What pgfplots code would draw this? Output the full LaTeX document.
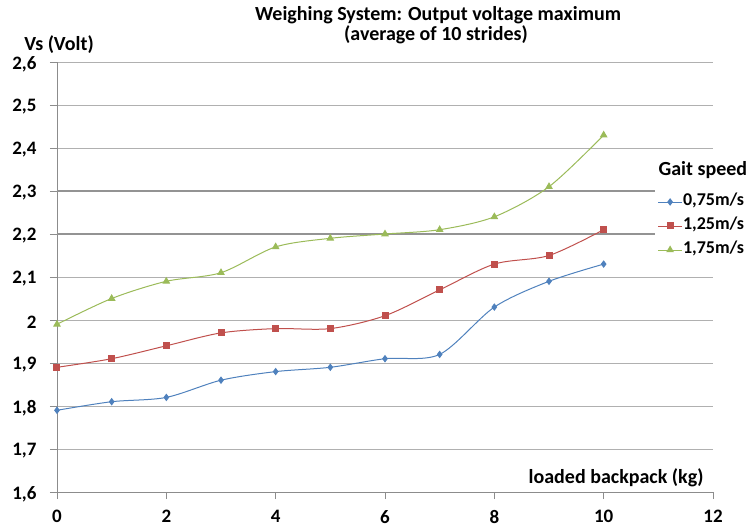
\documentclass[border=0pt]{standalone}
\usepackage{pgfplots}
\pgfplotsset{compat=1.18}
\usepackage{fontspec}
\setmainfont{Carlito}
\definecolor{cblue}{HTML}{4F81BD}
\definecolor{cred}{HTML}{C0504D}
\definecolor{cgreen}{HTML}{9BBB59}
\definecolor{gridc}{HTML}{B0B0B0}
\definecolor{axc}{HTML}{8C8C8C}
\begin{document}
\begin{tikzpicture}[x=1pt,y=1pt]
\path[use as bounding box] (-57,-39) rectangle (690,492);
\begin{axis}[
  at={(0,0)}, anchor=south west,
  scale only axis, width=656pt, height=430pt,
  xmin=0, xmax=12, ymin=1.6, ymax=2.6,
  xtick={0,2,...,12}, ytick={1.6,1.7,...,2.61},
  axis x line*=bottom, axis y line*=left,
  axis line style={axc, line width=0.8pt},
  tick align=outside, major tick length=7pt,
  tick style={axc, line width=0.8pt},
  ymajorgrids, major grid style={gridc, line width=0.9pt},
  extra y ticks={2.2,2.3}, extra y tick labels={},
  extra tick style={major grid style={gray!85, line width=2pt}, major tick length=0pt},
  /pgf/number format/assume math mode=true,
  /pgf/number format/use comma,
  /pgf/number format/fixed, /pgf/number format/precision=1,
  tick label style={font=\fontsize{19}{22}\selectfont\bfseries},
  yticklabel style={xshift=-10pt, yshift=-2pt},
  xticklabel style={yshift=-8pt},
  legend style={at={(axis cs:10.93,2.311)}, anchor=north west, draw=none, fill=white,
    font=\fontsize{18}{21}\selectfont\bfseries, row sep=7pt, inner xsep=3pt, inner ysep=7pt,
    legend cell align=left,
    nodes={inner sep=0.5pt, text height=12pt, text depth=4pt}},
  legend image code/.code={\draw[#1, line width=0.8pt] (0pt,0pt) -- (24pt,0pt); \draw[#1, only marks] plot coordinates {(12pt,0pt)};},
  clip=false,
]
\addplot[cblue, line width=1pt, smooth, mark=diamond*, mark size=3pt, mark options={fill=cblue}]
 coordinates {(0,1.79)(1,1.81)(2,1.82)(3,1.86)(4,1.88)(5,1.89)(6,1.91)(7,1.92)(8,2.03)(9,2.09)(10,2.13)};
\addlegendentry{0,75m/s}
\addplot[cred, line width=1pt, smooth, mark=square*, mark size=3pt, mark options={fill=cred}]
 coordinates {(0,1.89)(1,1.91)(2,1.94)(3,1.97)(4,1.98)(5,1.98)(6,2.01)(7,2.07)(8,2.13)(9,2.15)(10,2.21)};
\addlegendentry{1,25m/s}
\addplot[cgreen, line width=1pt, smooth, mark=triangle*, mark size=3.5pt, mark options={fill=cgreen}]
 coordinates {(0,1.99)(1,2.05)(2,2.09)(3,2.11)(4,2.17)(5,2.19)(6,2.20)(7,2.21)(8,2.24)(9,2.31)(10,2.43)};
\addlegendentry{1,75m/s}
\end{axis}
\node[anchor=west, font=\fontsize{20}{24}\selectfont\bfseries] at (598,322) {Gait speed};
\node[font=\fontsize{20}{24}\selectfont\bfseries] at (381,477) {Weighing System: Output voltage maximum};
\node[font=\fontsize{20}{24}\selectfont\bfseries] at (379,457) {(average of 10 strides)};
\node[font=\fontsize{20}{24}\selectfont\bfseries] at (2,447) {Vs (Volt)};
\node[anchor=east, font=\fontsize{20}{24}\selectfont\bfseries] at (650,14) {loaded backpack (kg)};
\end{tikzpicture}
\end{document}
